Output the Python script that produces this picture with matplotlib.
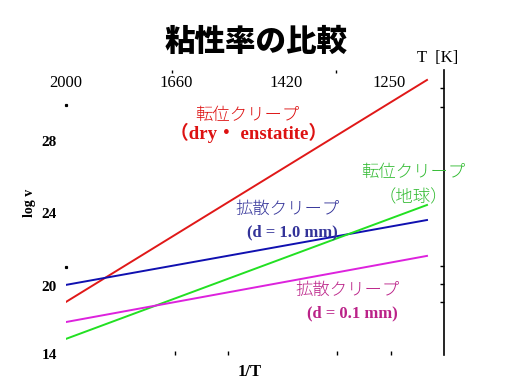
import numpy as np
import matplotlib
matplotlib.use('Agg')
import matplotlib.pyplot as plt

plt.rcParams['font.family'] = ['Liberation Serif', 'Noto Sans CJK JP', 'DejaVu Sans']

# x: 1e4/T, y: log v
x_ends = [5.0, 8.353]
red_y = [19.12, 31.37]       # 転位クリープ (dry・enstatite)
blue_y = [20.06, 23.64]      # 拡散クリープ d = 1.0 mm
green_y = [17.08, 24.47]     # 転位クリープ (地球)
magenta_y = [18.01, 21.66]   # 拡散クリープ d = 0.1 mm

temp_labels = [2000, 1660, 1420, 1250]
ytick_pos = [16.25, 20, 24, 28]
ytick_labels = ['14', '20', '24', '28']
right_ticks = [30.9, 29.9, 21.1, 20.1, 19.1]
left_dots = [30.0, 21.05]
top_dots = [5.985, 6.505, 7.51]
bottom_ticks = [6.013, 6.505, 7.52, 8.02]

fig = plt.figure(figsize=(5.12, 3.84), dpi=100)
ax = fig.add_axes([66/512, 1-355/384, 378/512, 285/384])
ax.set_xlim(5.0, 8.511)
ax.set_ylim(16.19, 31.92)

ax.plot(x_ends, red_y, color='#e01818', lw=1.4)
ax.plot(x_ends, blue_y, color='#1010b0', lw=1.4)
ax.plot(x_ends, green_y, color='#22e022', lw=1.4)
ax.plot(x_ends, magenta_y, color='#dd22dd', lw=1.4)

# small stray marks on the left edge
ax.plot([x_ends[0]] * len(left_dots), left_dots, ls='none', marker='s', ms=1.3,
        color='black', clip_on=False)

for s in ['left', 'top', 'bottom']:
    ax.spines[s].set_visible(False)
ax.spines['right'].set_linewidth(1.2)

# y tick labels on the left, tick marks on the right line
ax.set_yticks(ytick_pos)
ax.set_yticklabels(ytick_labels, fontsize=11, fontweight='bold')
ax.tick_params(axis='y', which='major', left=False, right=False, pad=3)
ax.set_yticks(right_ticks, minor=True)
ax.tick_params(axis='y', which='minor', left=False, right=True, direction='in', length=3, width=1)

ax.set_xticks(bottom_ticks)
ax.set_xticklabels([])
ax.tick_params(axis='x', which='major', bottom=True, top=False, direction='in', length=3, width=1)
ax.set_xticks(top_dots, minor=True)
ax.tick_params(axis='x', which='minor', bottom=False, top=True, direction='in', length=2, width=1)

# temperature labels along the top
for t in temp_labels:
    ax.text(1e4 / t, 31.2, str(t), ha='center', va='center', fontsize=12)

ax.set_ylabel('log v', fontsize=10, fontweight='bold')
ax.yaxis.set_label_coords(-0.08, 0.533)
ax.set_xlabel('1/T', fontsize=12, fontweight='bold')
ax.xaxis.set_label_coords(0.487, -0.03)

fig.text(0.5, 1-41/384, '粘性率の比較', ha='center', va='center', fontsize=22,
         fontweight='heavy', family=['Noto Sans CJK JP'])
fig.text(438/512, 1-58/384, 'T  [K]', ha='center', va='center', fontsize=12)

cjk = ['Noto Sans CJK JP']
ax.text(6.681, 29.45, '転位クリープ', color='#dd1111', fontsize=12.5, ha='center', va='center',
        family=cjk, fontweight='light')
ax.text(6.70, 28.44, '（dry・ enstatite）', color='#dd1111', fontsize=13.5, ha='center', va='center',
        fontweight='bold')
ax.text(8.222, 26.3, '転位クリープ', color='#33bb33', fontsize=12.5, ha='center', va='center',
        family=cjk, fontweight='light')
ax.text(8.222, 24.87, '（地球）', color='#33bb33', fontsize=12.5, ha='center', va='center',
        family=cjk, fontweight='light')
ax.text(7.062, 24.26, '拡散クリープ', color='#333399', fontsize=12.5, ha='center', va='center',
        family=cjk, fontweight='light')
ax.text(7.099, 22.98, '(d = 1.0 mm)', color='#333399', fontsize=12, ha='center', va='center',
        fontweight='bold')
ax.text(7.619, 19.79, '拡散クリープ', color='#bb2288', fontsize=12.5, ha='center', va='center',
        family=cjk, fontweight='light')
ax.text(7.656, 18.51, '(d = 0.1 mm)', color='#bb2288', fontsize=12, ha='center', va='center',
        fontweight='bold')

fig.savefig('out.png', dpi=100)
